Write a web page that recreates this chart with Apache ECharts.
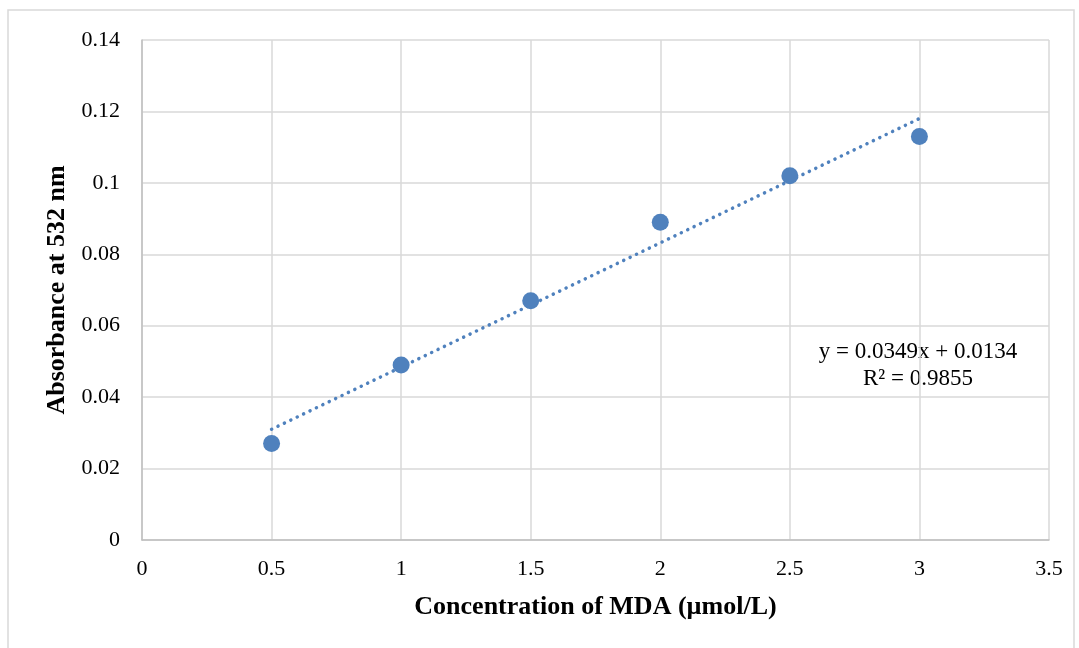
<!DOCTYPE html>
<html>
<head>
<meta charset="utf-8">
<style>
  html, body { margin: 0; padding: 0; background: #fff; }
  #chart { width: 1079px; height: 648px; }
</style>
<script src="https://cdn.jsdelivr.net/npm/echarts@6/dist/echarts.min.js"></script>
</head>
<body>
<div id="chart"></div>
<script>
// concentrations (µmol/L) and absorbance
const concentration = [0.5, 1, 1.5, 2, 2.5, 3];
const absorbance = [0.027, 0.049, 0.067, 0.089, 0.102, 0.113];
// linear trendline ends, as drawn
const trendX = [0.5, 3];
const trendY = [0.031, 0.118];
const equationText = ["y = 0.0349x + 0.0134", "R² = 0.9855"];

const font = "'Liberation Serif', 'Times New Roman', serif";
const blue = "#4f81bd";

let chart = echarts.init(document.getElementById("chart"));
let option = {
  animation: false,
  textStyle: { fontFamily: font },
  grid: { left: 142, right: 30, top: 40, bottom: 108 },
  xAxis: {
    type: "value",
    min: 0,
    max: 3.5,
    interval: 0.5,
    name: "Concentration of MDA (µmol/L)",
    nameLocation: "middle",
    nameGap: 54,
    nameTextStyle: { fontFamily: font, fontSize: 26, fontWeight: "bold", color: "#000" },
    axisLine: { show: true, lineStyle: { color: "#bfbfbf", width: 1.5 } },
    axisTick: { show: false },
    axisLabel: { fontFamily: font, fontSize: 22, color: "#000", margin: 18 },
    splitLine: { show: true, lineStyle: { color: "#d9d9d9", width: 1.5 } }
  },
  yAxis: {
    type: "value",
    min: 0,
    max: 0.14,
    interval: 0.02,
    name: "Absorbance at 532 nm",
    nameLocation: "middle",
    nameGap: 67,
    nameTextStyle: { fontFamily: font, fontSize: 26, fontWeight: "bold", color: "#000" },
    axisLine: { show: true, lineStyle: { color: "#bfbfbf", width: 1.5 } },
    axisTick: { show: false },
    axisLabel: { fontFamily: font, fontSize: 22, color: "#000", margin: 22 },
    splitLine: { show: true, lineStyle: { color: "#d9d9d9", width: 1.5 } }
  },
  series: [
    {
      type: "line",
      data: trendX.map((x, i) => [x, trendY[i]]),
      symbol: "none",
      lineStyle: { color: blue, width: 3.5, type: [0.1, 7], cap: "round" },
      z: 2
    },
    {
      type: "scatter",
      data: concentration.map((x, i) => [x, absorbance[i]]),
      symbol: "circle",
      symbolSize: 17,
      itemStyle: { color: blue, opacity: 1 },
      z: 3
    }
  ],
  graphic: [
    {
      type: "rect",
      shape: { x: 8, y: 10, width: 1066, height: 648 },
      style: { fill: "none", stroke: "#d9d9d9", lineWidth: 1.5 },
      z: -1
    },
    {
      type: "text",
      x: 918,
      y: 338,
      style: {
        text: equationText.join("\n"),
        textAlign: "center",
        align: "center",
        font: "23px " + font,
        fill: "#000",
        lineHeight: 27
      }
    }
  ]
};
chart.setOption(option);
window.addEventListener("resize", () => chart.resize());
</script>
</body>
</html>
